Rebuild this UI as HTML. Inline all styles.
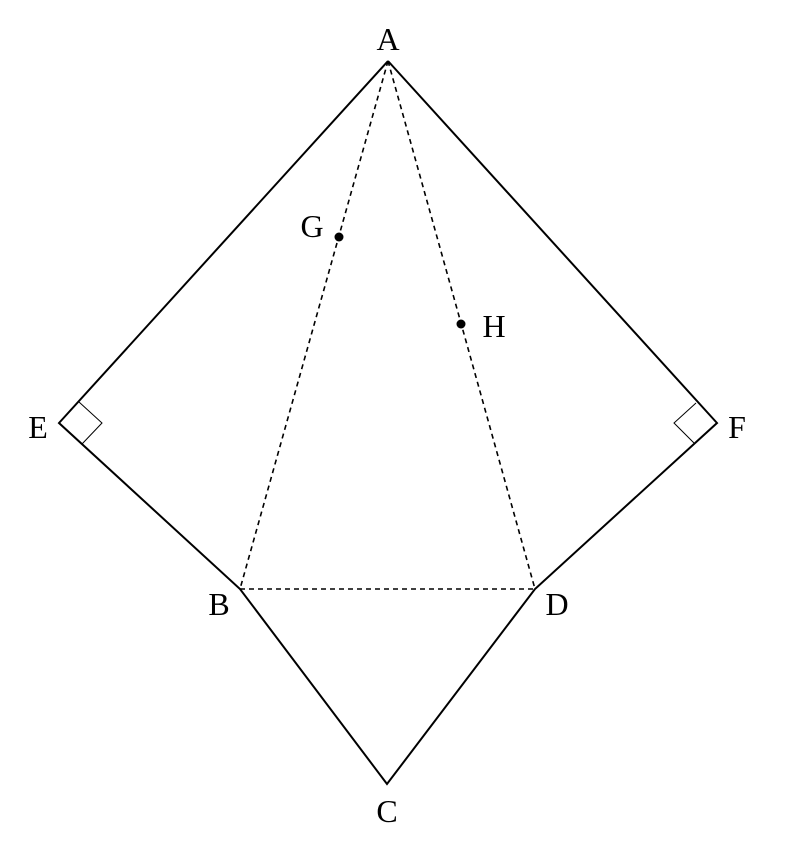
<!DOCTYPE html>
<html><head><meta charset="utf-8"><style>html,body{margin:0;padding:0;background:#fff}</style></head>
<body>
<svg width="786" height="854" viewBox="0 0 786 854" xmlns="http://www.w3.org/2000/svg">
<g fill="none" stroke="#000" stroke-width="2">
<polyline points="388,61 59,423 240,589 387,784 535,589 717,423 388,61"/>
</g>
<g fill="none" stroke="#000" stroke-width="1.6" stroke-dasharray="5,4">
<line x1="388" y1="61" x2="240" y2="589"/>
<line x1="388" y1="61" x2="535" y2="589"/>
<line x1="240" y1="589" x2="535" y2="589"/>
</g>
<g fill="none" stroke="#000" stroke-width="1">
<polyline points="79,402 102,423 82,444"/>
<polyline points="696,403 674,423 694,443"/>
</g>
<circle cx="339" cy="237" r="4.5" fill="#000"/>
<circle cx="461" cy="324" r="4.5" fill="#000"/>
<g font-family="Liberation Serif, serif" font-size="32" fill="#000">
<text x="388" y="50" text-anchor="middle">A</text>
<text x="312" y="237" text-anchor="middle">G</text>
<text x="494" y="337" text-anchor="middle">H</text>
<text x="38" y="438" text-anchor="middle">E</text>
<text x="737" y="438" text-anchor="middle">F</text>
<text x="219" y="615" text-anchor="middle">B</text>
<text x="557" y="615" text-anchor="middle">D</text>
<text x="387" y="822" text-anchor="middle">C</text>
</g>
</svg>
</body></html>
